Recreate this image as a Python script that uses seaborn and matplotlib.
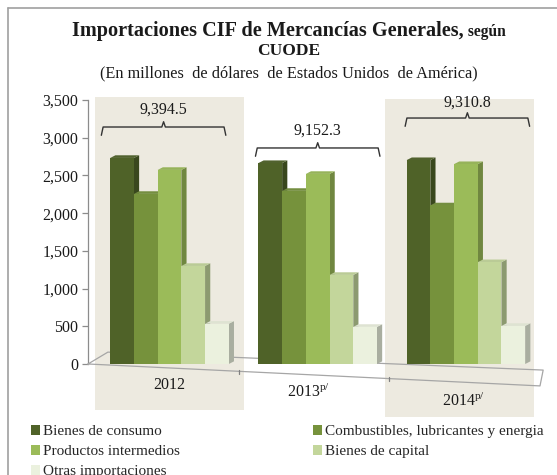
import matplotlib
matplotlib.use("Agg")
import matplotlib.pyplot as plt
import seaborn as sns
import pandas as pd
import numpy as np
from matplotlib.patches import Polygon, Rectangle, Patch
from matplotlib.lines import Line2D
import matplotlib.transforms as mtransforms
import matplotlib.colors as mcolors

# ---------------- data ----------------
categories = ["2012", "2013", "2014"]
category_labels = ["2012", "2013$^{\\mathrm{p/}}$", "2014$^{\\mathrm{p/}}$"]
series = ["Bienes de consumo", "Combustibles, lubricantes y energia",
          "Productos intermedios", "Bienes de capital", "Otras importaciones"]
bienes_consumo = [2732, 2664, 2703]
combustibles = [2255, 2295, 2103]
productos_intermedios = [2573, 2520, 2650]
bienes_capital = [1300, 1181, 1350]
otras_importaciones = [534, 492, 505]
totals = [9394.5, 9152.3, 9310.8]
yticks = [0, 500, 1000, 1500, 2000, 2500, 3000, 3500]

colors = ["#4f6228", "#76923c", "#9bbb59", "#c3d69b", "#ebf1de"]
beige = "#edeae0"

values = [bienes_consumo, combustibles, productos_intermedios, bienes_capital, otras_importaciones]
rows = []
for s, vals in zip(series, values):
    for c, v in zip(categories, vals):
        rows.append({"cat": c, "serie": s, "valor": v})
df = pd.DataFrame(rows)

# ---------------- style ----------------
sns.set_style("white")
plt.rcParams["font.family"] = ["Liberation Serif", "DejaVu Serif"]
plt.rcParams["mathtext.fontset"] = "custom"
plt.rcParams["mathtext.rm"] = "Liberation Serif"
plt.rcParams["mathtext.it"] = "Liberation Serif:italic"
plt.rcParams["mathtext.bf"] = "Liberation Serif:bold"

W, H = 557, 475
fig = plt.figure(figsize=(W / 100, H / 100), dpi=100)
fig.patch.set_facecolor("white")
ax = fig.add_axes([88 / W, 1 - 364 / H, (540 - 88) / W, (364 - 100) / H])
ax.set_facecolor("none")

sns.barplot(data=df, x="cat", y="valor", hue="serie", order=categories,
            hue_order=series, palette=colors, saturation=1, width=0.8,
            legend=False, ax=ax, edgecolor="none", linewidth=0)

ax.set_ylim(0, 3500)
ax.set_xlim(-0.55, 2.5)

# 3D-like faces from the bar patches
dx, dy = 0.035, 35
for i, cont in enumerate(ax.containers):
    base = np.array(mcolors.to_rgb(colors[i]))
    side = base * 0.72
    top = np.clip(base * 0.9 + 0.04, 0, 1)
    for p in cont.patches:
        x0, w, h = p.get_x(), p.get_width(), p.get_height()
        p.set_zorder(10 + 2 * i + 1)
        ax.add_patch(Polygon([(x0 + w, 0), (x0 + w + dx, dy), (x0 + w + dx, h + dy), (x0 + w, h)],
                             closed=True, facecolor=side, edgecolor="none", zorder=10 + 2 * i))
        ax.add_patch(Polygon([(x0, h), (x0 + dx, h + dy), (x0 + w + dx, h + dy), (x0 + w, h)],
                             closed=True, facecolor=top, edgecolor="none", zorder=10 + 2 * i))

# shaded backgrounds for 2012 and 2014
bt = mtransforms.blended_transform_factory(ax.transData, ax.transAxes)
for idx, shift, ytop, ybot in [(0, 0.0, 1.011, -0.174), (2, -0.043, 1.004, -0.2)]:
    ax.add_patch(Rectangle((idx - 0.5 + shift, ybot), 1.0, ytop - ybot, transform=bt,
                           facecolor=beige, edgecolor="none", zorder=0, clip_on=False))

# floor
floor_col = "#a6a6a6"
fl = [(0, 0), (1.0, -0.083), (1.007, -0.023), (0.044, 0.045), (0, 0)]
ax.add_line(Line2D([p[0] for p in fl], [p[1] for p in fl], transform=ax.transAxes,
                   color=floor_col, lw=0.9, zorder=5, clip_on=False))
for xf in [0.333, 0.666]:
    ax.add_line(Line2D([xf, xf], [-0.083 * xf - 0.01, -0.083 * xf + 0.005], transform=ax.transAxes,
                       color="#808080", lw=0.9, zorder=5, clip_on=False))

# category labels
label_y = [-0.078, -0.108, -0.14]
label_dx = [0.0, -0.06, -0.02]
for i, lab in enumerate(category_labels):
    ax.text(i + label_dx[i], label_y[i], lab, transform=bt, ha="center", va="center",
            fontsize=11.5, color="#1a1a1a", zorder=20)

# brackets with totals
br = [(0 - 0.04, 3142, 3367), (1.0, 2864, 3089), (2.01, 3261, 3460)]
for (xc, yb, yl), tot in zip(br, totals):
    hw = 0.42
    d = 110
    e = 0.012
    pts_x = [xc - hw, xc - hw + e, xc - e, xc, xc + e, xc + hw - e, xc + hw]
    pts_y = [yb - d, yb, yb, yb + 70, yb, yb, yb - d]
    ax.add_line(Line2D(pts_x, pts_y, color="#333333", lw=1.0, zorder=25, clip_on=False))
    ax.text(xc, yl, f"{tot:,.1f}", ha="center", va="center", fontsize=11.5,
            color="#1a1a1a", zorder=25, clip_on=False)

# axes styling
sns.despine(ax=ax, left=False, bottom=True, right=True, top=True)
ax.spines["left"].set_color("#8c8c8c")
ax.spines["left"].set_linewidth(0.9)
ax.set_yticks(yticks)
ax.set_yticklabels([f"{v:,}" for v in yticks], fontsize=11.5, color="#1a1a1a")
ax.tick_params(axis="y", length=4, width=0.9, color="#8c8c8c", left=True, pad=3)
ax.set_xticks([])
ax.set_xlabel("")
ax.set_ylabel("")

# titles
t1 = fig.text(0.5, 1 - 31 / H, "Importaciones CIF de Mercancías Generales,", ha="right",
              va="center", fontsize=14.6, fontweight="bold", color="#1a1a1a")
t2 = fig.text(0.5, 1 - 32 / H, " según", ha="left", va="center", fontsize=11.2,
              fontweight="bold", color="#1a1a1a")
fig.canvas.draw()
r = fig.canvas.get_renderer()
w1 = t1.get_window_extent(r).width
w2 = t2.get_window_extent(r).width
cx = 289
start = cx - (w1 + w2) / 2
t1.set_x((start + w1) / W)
t2.set_x((start + w1) / W)
fig.text(cx / W, 1 - 51 / H, "CUODE", ha="center", va="center", fontsize=12.5,
         fontweight="bold", color="#1a1a1a")
fig.text(cx / W, 1 - 73 / H, "(En millones  de dólares  de Estados Unidos  de América)",
         ha="center", va="center", fontsize=11.7, color="#1a1a1a")

# legend (row-wise order in 2 columns)
handles = [Patch(facecolor=c, edgecolor="none", label=s) for s, c in zip(series, colors)]
order = [0, 2, 4, 1, 3]
fig.legend([handles[k] for k in order], [series[k] for k in order], loc="upper left",
           bbox_to_anchor=(31 / W, 1 - 425 / H), ncol=2, frameon=False, fontsize=11,
           handlelength=0.6, handleheight=0.6, handletextpad=0.2, columnspacing=8.7,
           labelspacing=0.45, borderaxespad=0, borderpad=0)

# outer border (top & left)
fig.add_artist(Line2D([8 / W, 1.0], [1 - 8 / H, 1 - 8 / H], transform=fig.transFigure,
                      color="#a0a0a0", lw=1.2))
fig.add_artist(Line2D([8 / W, 8 / W], [1 - 8 / H, 0], transform=fig.transFigure,
                      color="#a0a0a0", lw=1.2))

fig.savefig("out.png", dpi=100)
